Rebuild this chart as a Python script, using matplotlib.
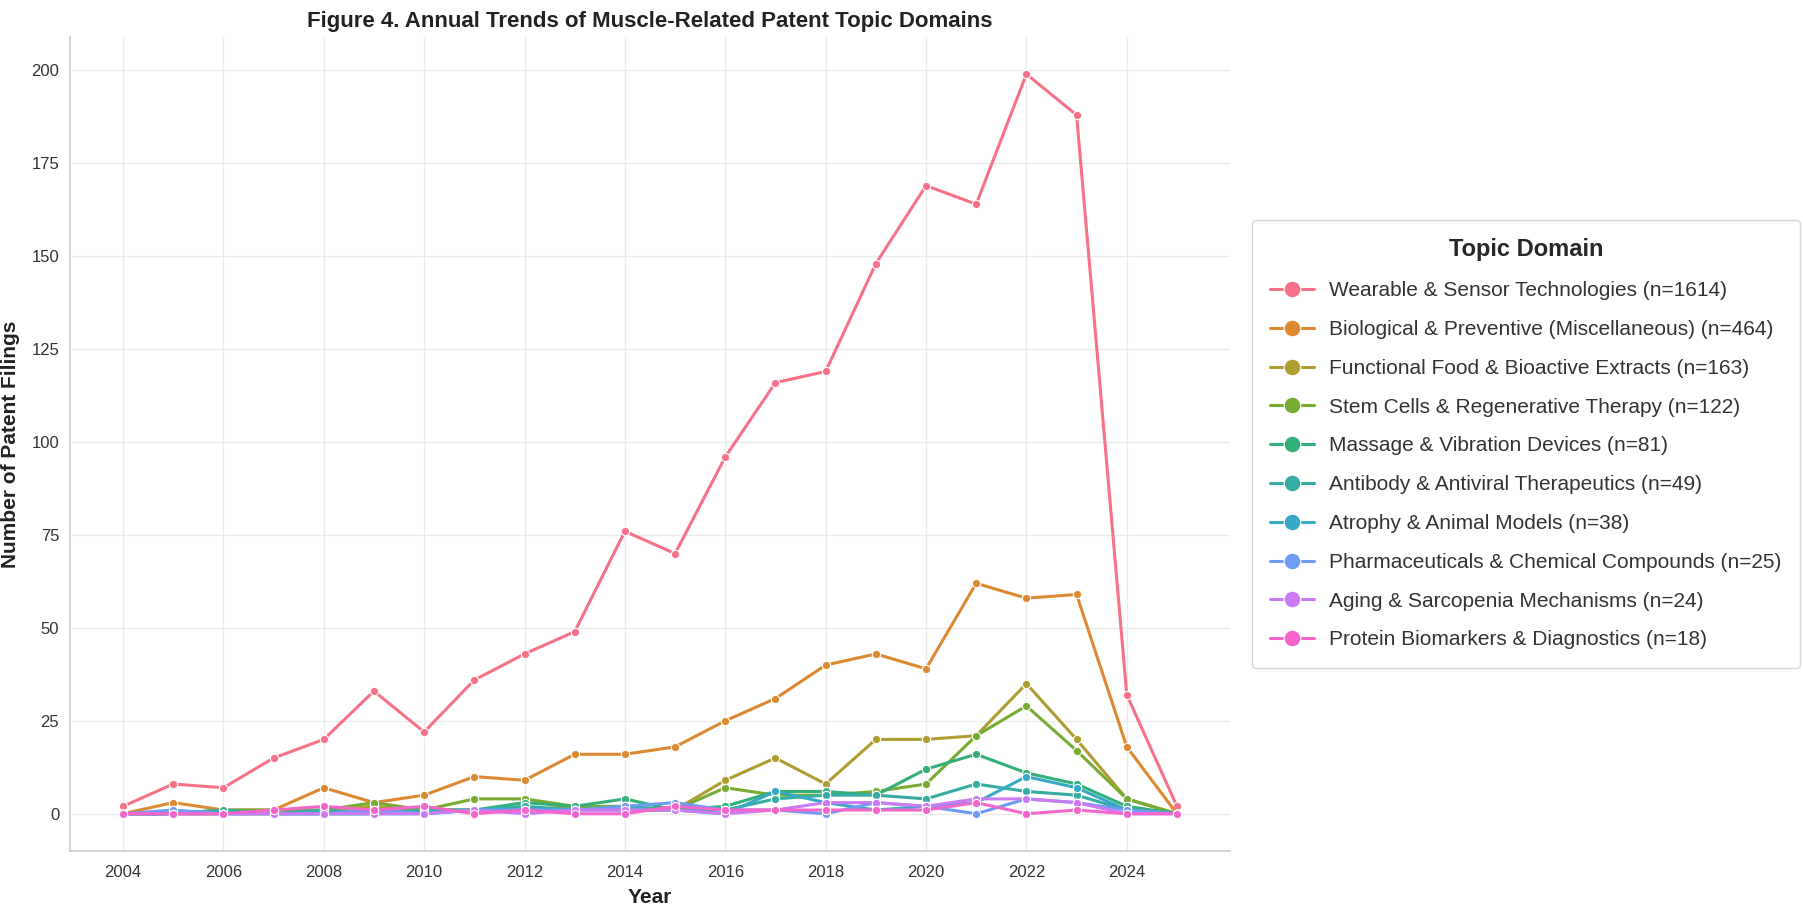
import matplotlib
matplotlib.use("Agg")
import matplotlib.pyplot as plt
import seaborn as sns

years = list(range(2004, 2026))

topics = [
    "Wearable & Sensor Technologies (n=1614)",
    "Biological & Preventive (Miscellaneous) (n=464)",
    "Functional Food & Bioactive Extracts (n=163)",
    "Stem Cells & Regenerative Therapy (n=122)",
    "Massage & Vibration Devices (n=81)",
    "Antibody & Antiviral Therapeutics (n=49)",
    "Atrophy & Animal Models (n=38)",
    "Pharmaceuticals & Chemical Compounds (n=25)",
    "Aging & Sarcopenia Mechanisms (n=24)",
    "Protein Biomarkers & Diagnostics (n=18)",
]

wearable = [2, 8, 7, 15, 20, 33, 22, 36, 43, 49, 76, 70, 96, 116, 119, 148, 169, 164, 199, 188, 32, 2]
biological = [0, 3, 1, 1, 7, 3, 5, 10, 9, 16, 16, 18, 25, 31, 40, 43, 39, 62, 58, 59, 18, 0]
functional_food = [0, 0, 0, 0, 1, 2, 1, 1, 1, 2, 1, 1, 9, 15, 8, 20, 20, 21, 35, 20, 4, 0]
stem_cells = [0, 0, 1, 1, 1, 3, 1, 4, 4, 2, 2, 1, 7, 5, 5, 6, 8, 21, 29, 17, 4, 0]
massage = [0, 0, 1, 0, 0, 0, 1, 1, 3, 2, 4, 1, 2, 6, 6, 5, 12, 16, 11, 8, 2, 0]
antibody = [0, 0, 1, 0, 1, 0, 1, 1, 2, 1, 2, 1, 1, 4, 5, 5, 4, 8, 6, 5, 1, 0]
atrophy = [0, 0, 0, 0, 0, 0, 0, 1, 1, 1, 1, 1, 0, 6, 3, 1, 2, 3, 10, 7, 1, 0]
pharma = [0, 1, 0, 0, 0, 1, 0, 1, 1, 1, 2, 3, 1, 1, 0, 3, 2, 0, 4, 3, 1, 0]
aging = [0, 0, 0, 0, 0, 0, 0, 1, 0, 1, 1, 1, 0, 1, 3, 3, 2, 4, 4, 3, 0, 0]
protein = [0, 0, 0, 1, 2, 1, 2, 0, 1, 0, 0, 2, 1, 1, 1, 1, 1, 3, 0, 1, 0, 0]

series = [wearable, biological, functional_food, stem_cells, massage,
          antibody, atrophy, pharma, aging, protein]

sns.set_style("whitegrid")
plt.rcParams['font.family'] = ['Liberation Sans', 'DejaVu Sans']

colors = sns.color_palette("husl", len(topics))

fig = plt.figure(figsize=(18.03, 9.06), dpi=100)
ax = fig.add_axes([0.039, 0.061, 0.643, 0.898])

for name, vals, c in zip(topics, series, colors):
    ax.plot(years, vals, color=c, lw=2.2, marker='o', markersize=6,
            markeredgecolor='white', markeredgewidth=0.8, label=name)

ax.set_xticks(list(range(2004, 2025, 2)))
ax.tick_params(axis='both', labelsize=12, colors='#333333', length=0, pad=8)
ax.tick_params(axis='x', pad=10)
ax.grid(True, color='#ebebeb', lw=1)
for s in ['top', 'right']:
    ax.spines[s].set_visible(False)
for s in ['left', 'bottom']:
    ax.spines[s].set_color('#cccccc')
    ax.spines[s].set_linewidth(1.2)

ax.set_xlabel("Year", fontsize=15, fontweight='bold', color='#222222', labelpad=6)
ax.set_ylabel("Number of Patent Filings", fontsize=15, fontweight='bold', color='#222222', labelpad=8)
ax.set_title("Figure 4. Annual Trends of Muscle-Related Patent Topic Domains",
             fontsize=16, fontweight='bold', color='#222222', pad=7)

leg = ax.legend(title="Topic Domain", loc='center left', bbox_to_anchor=(1.019, 0.5),
                fontsize=15, title_fontsize=17, frameon=True, markerscale=2.0,
                handlelength=2.1, labelspacing=0.95, borderpad=0.9, handletextpad=0.7,
                borderaxespad=0)
leg.get_title().set_fontweight('bold')
leg.get_frame().set_edgecolor('#cccccc')
leg.get_frame().set_linewidth(1.0)
for t in leg.get_texts():
    t.set_color('#333333')

fig.savefig("out.png", dpi=100)
